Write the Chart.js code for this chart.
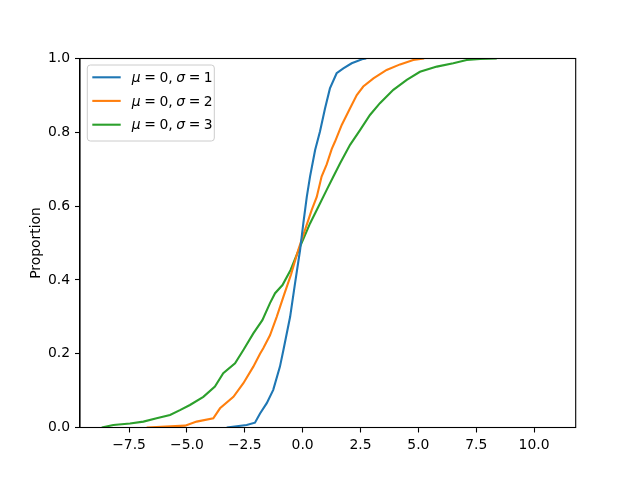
<!DOCTYPE html>
<html>
<head>
<meta charset="utf-8">
<script src="https://cdn.jsdelivr.net/npm/chart.js@4/dist/chart.umd.min.js"></script>
<style>
html,body{margin:0;padding:0;background:#fff;}
#wrap{width:640px;height:480px;}
</style>
</head>
<body>
<div id="wrap"><canvas id="c" width="640" height="480"></canvas></div>
<script>
// Series labels and colours
const seriesLabels = ["μ = 0, σ = 1", "μ = 0, σ = 2", "μ = 0, σ = 3"];
const seriesColors = ["#1f77b4", "#ff7f0e", "#2ca02c"];

// ECDF points (x value, proportion)
const s1X = [-3.28,-2.42,-2.06,-1.84,-1.55,-1.27,-0.98,-0.83,-0.54,-0.33,-0.11,0.03,0.18,0.32,0.54,0.75,0.97,1.18,1.47,1.76,2.12,2.62,2.75];
const s1P = [0,0.007,0.013,0.038,0.066,0.102,0.165,0.21,0.30,0.39,0.481,0.553,0.625,0.68,0.752,0.802,0.865,0.919,0.96,0.973,0.987,0.999,1.0];

const s2X = [-6.74,-5.08,-4.58,-3.86,-3.57,-2.99,-2.56,-2.13,-1.84,-1.70,-1.41,-1.12,-0.80,-0.50,-0.19,0.10,0.39,0.61,0.82,1.04,1.26,1.40,1.69,2.05,2.34,2.62,3.06,3.63,4.21,4.78,5.25];
const s2P = [0,0.005,0.016,0.025,0.052,0.083,0.12,0.165,0.2,0.215,0.25,0.30,0.36,0.415,0.481,0.535,0.589,0.625,0.68,0.713,0.755,0.775,0.82,0.865,0.901,0.924,0.946,0.969,0.984,0.996,1.0];

const s3X = [-8.68,-8.18,-7.46,-6.88,-6.31,-5.73,-5.30,-4.87,-4.29,-3.79,-3.43,-2.92,-2.56,-2.13,-1.74,-1.41,-1.19,-0.87,-0.52,-0.11,0.32,0.68,1.04,1.33,1.62,2.05,2.48,2.91,3.34,3.92,4.50,5.07,5.80,6.51,7.09,7.67,8.39];
const s3P = [0,0.007,0.011,0.016,0.025,0.034,0.047,0.061,0.083,0.111,0.147,0.174,0.21,0.255,0.291,0.337,0.364,0.386,0.427,0.49,0.553,0.598,0.644,0.68,0.716,0.766,0.806,0.847,0.879,0.915,0.942,0.964,0.978,0.987,0.996,0.999,1.0];

// Tick values
const xTicks = [-7.5,-5.0,-2.5,0.0,2.5,5.0,7.5,10.0];
const yTicks = [0.0,0.2,0.4,0.6,0.8,1.0];
const yTitle = "Proportion";

const FONT = "'DejaVu Sans', sans-serif";
const FS = 13.9;
const LW = 2.1;

function pts(xs, ps){ return xs.map((x,i)=>({x:x, y:ps[i]})); }
function fmt(v){ const s = Math.abs(v).toFixed(1); return (v < 0 ? '\u2212' : '') + s; }

const allSeries = [[s1X,s1P],[s2X,s2P],[s3X,s3P]];
const datasets = allSeries.map((s,i)=>({
  label: seriesLabels[i],
  data: pts(s[0], s[1]),
  borderColor: seriesColors[i],
  backgroundColor: seriesColors[i],
  borderWidth: LW,
  pointRadius: 0,
  showLine: true,
  tension: 0,
  fill: false
}));

const framePlugin = {
  id: 'frame',
  afterDraw(chart){
    const ctx = chart.ctx, a = chart.chartArea;
    ctx.save();
    ctx.strokeStyle = '#000';
    ctx.lineWidth = 1.1;
    ctx.strokeRect(a.left, a.top, a.right - a.left, a.bottom - a.top);
    // y title
    ctx.fillStyle = '#000';
    ctx.font = FS + 'px ' + FONT;
    ctx.textAlign = 'center';
    ctx.textBaseline = 'middle';
    ctx.translate(36, (a.top + a.bottom)/2);
    ctx.rotate(-Math.PI/2);
    ctx.fillText(yTitle, 0, 0);
    ctx.restore();

    // legend
    ctx.save();
    const lx = 87.3, ly = 65, lw = 127, lh = 76, r = 3;
    ctx.beginPath();
    ctx.moveTo(lx + r, ly);
    ctx.lineTo(lx + lw - r, ly);
    ctx.quadraticCurveTo(lx + lw, ly, lx + lw, ly + r);
    ctx.lineTo(lx + lw, ly + lh - r);
    ctx.quadraticCurveTo(lx + lw, ly + lh, lx + lw - r, ly + lh);
    ctx.lineTo(lx + r, ly + lh);
    ctx.quadraticCurveTo(lx, ly + lh, lx, ly + lh - r);
    ctx.lineTo(lx, ly + r);
    ctx.quadraticCurveTo(lx, ly, lx + r, ly);
    ctx.closePath();
    ctx.fillStyle = 'rgba(255,255,255,0.8)';
    ctx.fill();
    ctx.strokeStyle = '#cccccc';
    ctx.lineWidth = 1;
    ctx.stroke();
    const rows = [77.3, 100.9, 124.7];
    chart.data.datasets.forEach((ds, i) => {
      const y = rows[i];
      ctx.strokeStyle = ds.borderColor;
      ctx.lineWidth = LW;
      ctx.beginPath();
      ctx.moveTo(92.3, y);
      ctx.lineTo(120.7, y);
      ctx.stroke();
      // text with italic greek letters
      let x = 131.7;
      ctx.fillStyle = '#000';
      ctx.textBaseline = 'middle';
      ctx.textAlign = 'left';
      for (const ch of ds.label) {
        if (ch === ' ') { x += 3.6; continue; }
        const ital = /[μσ]/.test(ch);
        ctx.font = (ital ? 'italic ' : '') + FS + 'px ' + FONT;
        ctx.fillText(ch, x, y + 1);
        x += ctx.measureText(ch).width;
      }
    });
    ctx.restore();
  }
};

new Chart(document.getElementById('c'), {
  type: 'scatter',
  data: { datasets },
  options: {
    responsive: false,
    animation: false,
    devicePixelRatio: 1,
    layout: { padding: { top: 58.5, right: 64.3, left: 0, bottom: 0 } },
    plugins: { legend: { display: false }, tooltip: { enabled: false } },
    scales: {
      x: {
        type: 'linear',
        min: -9.62, max: 11.80,
        afterBuildTicks: s => { s.ticks = xTicks.map(v => ({ value: v })); },
        afterFit: s => { s.height = 52.5; },
        grid: { display: true, drawOnChartArea: false, drawTicks: true, tickLength: 5, tickColor: '#000', tickWidth: 1.1 },
        border: { display: true, color: '#000', width: 1.1 },
        ticks: { color: '#000', padding: 5, maxRotation: 0, autoSkip: false, font: { family: FONT, size: FS }, callback: v => fmt(v) }
      },
      y: {
        type: 'linear',
        min: 0, max: 1,
        afterBuildTicks: s => { s.ticks = yTicks.map(v => ({ value: v })); },
        afterFit: s => { s.width = 80; },
        grid: { display: true, drawOnChartArea: false, drawTicks: true, tickLength: 5, tickColor: '#000', tickWidth: 1.1 },
        border: { display: true, color: '#000', width: 1.1 },
        ticks: { color: '#000', padding: 5, autoSkip: false, font: { family: FONT, size: FS }, callback: v => fmt(v) }
      }
    }
  },
  plugins: [framePlugin]
});
</script>
</body>
</html>
